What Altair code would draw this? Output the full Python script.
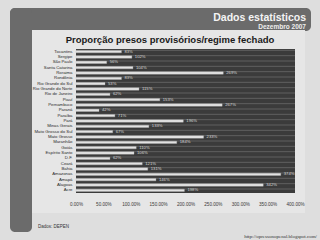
import altair as alt
import pandas as pd

states = ["Tocantins", "Sergipe", "São Paulo", "Santa Catarina", "Roraima", "Rondônia",
          "Rio Grande do Sul", "Rio Grande do Norte", "Rio de Janeiro", "Piauí", "Pernambuco",
          "Paraná", "Paraíba", "Pará", "Minas Gerais", "Mato Grosso do Sul", "Mato Grosso",
          "Maranhão", "Goiás", "Espírito Santo", "D.F.", "Ceará", "Bahia", "Amazonas",
          "Amapá", "Alagoas", "Acre"]
values = [83, 102, 56, 104, 269, 83, 53, 115, 62, 153, 267, 42, 71, 196, 133, 67, 233,
          184, 110, 106, 62, 121, 131, 374, 146, 342, 198]
x_ticks = [0, 0.5, 1.0, 1.5, 2.0, 2.5, 3.0, 3.5, 4.0]

df = pd.DataFrame({"estado": states, "pct": [v / 100 for v in values],
                   "rotulo": [f"{v}%" for v in values]})

W, H = 219, 144
L, T = 76, 49

deco = pd.DataFrame({"k": [0]})

header = alt.Chart(deco).mark_rect(color="#6b6b6b", cornerRadius=5).encode(
    x=alt.value(10 - L), x2=alt.value(311 - L), y=alt.value(8 - T), y2=alt.value(31 - T))
strip = alt.Chart(deco).mark_rect(color="#6b6b6b", cornerRadius=5).encode(
    x=alt.value(10 - L), x2=alt.value(32 - L), y=alt.value(8 - T), y2=alt.value(232 - T))
panel = alt.Chart(deco).mark_rect(color="#e6e6e6").encode(
    x=alt.value(32 - L), x2=alt.value(305 - L), y=alt.value(30 - T), y2=alt.value(213 - T))
plotbg = alt.Chart(deco).mark_rect(color="#3b3b3b").encode(
    x=alt.value(0), x2=alt.value(W), y=alt.value(0), y2=alt.value(H))

t1 = alt.Chart(deco).mark_text(text="Dados estatísticos", font="Liberation Sans", fontWeight="bold",
                               fontSize=10.5, color="#f4f4f4", align="right", baseline="alphabetic").encode(
    x=alt.value(306 - L), y=alt.value(21 - T))
t2 = alt.Chart(deco).mark_text(text="Dezembro 2007", font="Liberation Sans", fontWeight="bold",
                               fontSize=6.5, color="#eeeeee", align="right", baseline="alphabetic").encode(
    x=alt.value(306 - L), y=alt.value(28.5 - T))
t3 = alt.Chart(deco).mark_text(text="Proporção presos provisórios/regime fechado", font="Liberation Sans",
                               fontWeight="bold", fontSize=9.5, color="#1a1a1a", align="center",
                               baseline="alphabetic").encode(
    x=alt.value(170 - L), y=alt.value(42.5 - T))
t4 = alt.Chart(deco).mark_text(text="Dados: DEPEN", font="Liberation Sans", fontSize=4.5,
                               color="#333333", align="left", baseline="middle").encode(
    x=alt.value(38 - L), y=alt.value(227 - T))
t5 = alt.Chart(deco).mark_text(text="http://opressonopenal.blogspot.com/", font="Liberation Serif",
                               fontSize=5, color="#333333", align="right", baseline="middle").encode(
    x=alt.value(317 - L), y=alt.value(236 - T))

yaxis = alt.Axis(domain=False, ticks=False, grid=False, labelFontSize=4.3, zindex=2,
                 labelOverlap=False, labelColor="#2a2a2a", labelPadding=4,
                 labelFont="Liberation Sans")
yscale = alt.Scale(paddingInner=0.5, paddingOuter=0.25)
xaxis = alt.Axis(values=x_ticks, format=".2%", domain=False, ticks=False, grid=False,
                 labelOverlap=False, labelFlush=False, labelFontSize=4.6, labelColor="#3a3a3a",
                 labelPadding=8, zindex=2, labelFont="Liberation Sans")
xscale = alt.Scale(domain=[0, 4], nice=False)

ybar = alt.Y("estado:N", sort=states, title=None, scale=yscale, axis=yaxis)
xbar = alt.X("pct:Q", title=None, scale=xscale, axis=xaxis)

base = alt.Chart(df)
gridlines = base.mark_rule(color="#6a6a6a", strokeWidth=0.8).encode(
    y=alt.Y("estado:N", sort=states, bandPosition=0, title=None, scale=yscale, axis=yaxis),
    x=alt.value(0), x2=alt.value(W))
bars = base.mark_bar(color="#e2e2e2", stroke="#bdbdbd", strokeWidth=0.3, size=2.4).encode(
    y=ybar, x=xbar)
labels = base.mark_text(align="left", baseline="middle", dx=3, fontSize=4.2, color="#d8d8d8",
                        font="Liberation Sans").encode(y=ybar, x=xbar, text="rotulo:N")

chart = alt.layer(header, strip, panel, plotbg, t1, t2, t3, t4, t5,
                  gridlines, bars, labels).properties(
    width=W, height=H,
    autosize=alt.AutoSizeParams(type="none"),
    padding={"left": L, "top": T, "right": 320 - L - W, "bottom": 240 - T - H},
    background="#dedede"
).configure_view(stroke=None).configure_axis(labelOverlap=False, labelFlush=False)

chart.save("out.html", embed_options={"renderer": "svg", "actions": False})
